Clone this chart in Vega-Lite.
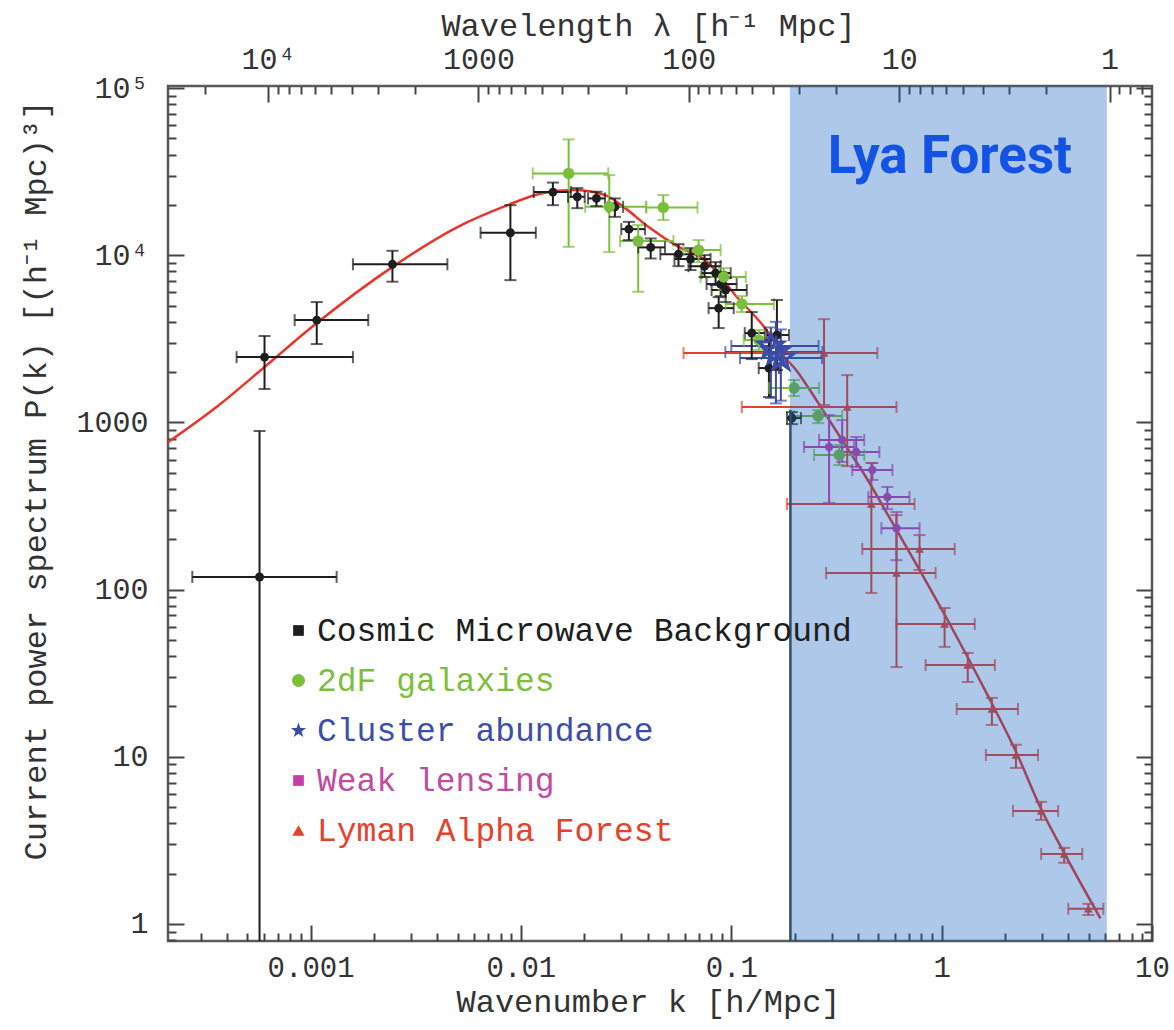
{
  "$schema": "https://vega.github.io/schema/vega-lite/v6.json",
  "width": 984,
  "height": 855,
  "autosize": {"type": "none"},
  "padding": {"left": 168, "top": 86, "right": 22, "bottom": 89},
  "background": "white",
  "config": {
    "view": {"stroke": "#5a5a5a", "strokeWidth": 2.5},
    "axis": {"grid": false, "domain": false, "tickColor": "#444444", "tickWidth": 2, "labelFont": "Liberation Mono", "titleFont": "Liberation Mono", "labelColor": "#333333", "titleColor": "#333333", "titleFontWeight": "normal", "labelOverlap": false, "labelFlush": false, "zindex": 2}
  },
  "datasets": {
    "pts": [
      {"s": "Cosmic Microwave Background", "k": 0.000572, "P": 119, "klo": 0.000274, "khi": 0.00133, "Plo": 0.1, "Phi": 889},
      {"s": "Cosmic Microwave Background", "k": 0.000604, "P": 2460, "klo": 0.000445, "khi": 0.00159, "Plo": 1585, "Phi": 3290},
      {"s": "Cosmic Microwave Background", "k": 0.00107, "P": 4095, "klo": 0.00084, "khi": 0.00188, "Plo": 2944, "Phi": 5250},
      {"s": "Cosmic Microwave Background", "k": 0.00245, "P": 8830, "klo": 0.00159, "khi": 0.00447, "Plo": 6950, "Phi": 10640},
      {"s": "Cosmic Microwave Background", "k": 0.00891, "P": 13640, "klo": 0.00643, "khi": 0.01177, "Plo": 7100, "Phi": 19950},
      {"s": "Cosmic Microwave Background", "k": 0.01419, "P": 23880, "klo": 0.0115, "khi": 0.0173, "Plo": 19950, "Phi": 27230},
      {"s": "Cosmic Microwave Background", "k": 0.01853, "P": 22390, "klo": 0.01674, "khi": 0.0201, "Plo": 19140, "Phi": 25230},
      {"s": "Cosmic Microwave Background", "k": 0.02285, "P": 21890, "klo": 0.02085, "khi": 0.0251, "Plo": 19680, "Phi": 23990},
      {"s": "Cosmic Microwave Background", "k": 0.02797, "P": 19500, "klo": 0.026, "khi": 0.0306, "Plo": 16980, "Phi": 21880},
      {"s": "Cosmic Microwave Background", "k": 0.0326, "P": 14340, "klo": 0.03, "khi": 0.0389, "Plo": 12330, "Phi": 15850},
      {"s": "Cosmic Microwave Background", "k": 0.0414, "P": 11150, "klo": 0.0361, "khi": 0.0484, "Plo": 9570, "Phi": 12610},
      {"s": "Cosmic Microwave Background", "k": 0.0561, "P": 10160, "klo": 0.046, "khi": 0.0684, "Plo": 8610, "Phi": 11660},
      {"s": "Cosmic Microwave Background", "k": 0.064, "P": 9490, "klo": 0.0537, "khi": 0.0797, "Plo": 8160, "Phi": 11040},
      {"s": "Cosmic Microwave Background", "k": 0.0746, "P": 8610, "klo": 0.0626, "khi": 0.089, "Plo": 7410, "Phi": 10030},
      {"s": "Cosmic Microwave Background", "k": 0.0842, "P": 7825, "klo": 0.0722, "khi": 0.0993, "Plo": 6630, "Phi": 9100},
      {"s": "Cosmic Microwave Background", "k": 0.089, "P": 6730, "klo": 0.0763, "khi": 0.1061, "Plo": 5700, "Phi": 7935},
      {"s": "Cosmic Microwave Background", "k": 0.094, "P": 6190, "klo": 0.0806, "khi": 0.1185, "Plo": 5250, "Phi": 7310},
      {"s": "Cosmic Microwave Background", "k": 0.0871, "P": 4830, "klo": 0.078, "khi": 0.1027, "Plo": 3670, "Phi": 5620},
      {"s": "Cosmic Microwave Background", "k": 0.1251, "P": 3425, "klo": 0.1159, "khi": 0.1443, "Plo": 2393, "Phi": 4575},
      {"s": "Cosmic Microwave Background", "k": 0.1648, "P": 3333, "klo": 0.1476, "khi": 0.188, "Plo": 2057, "Phi": 5400},
      {"s": "Cosmic Microwave Background", "k": 0.151, "P": 2115, "klo": 0.135, "khi": 0.1684, "Plo": 1419, "Phi": 3110},
      {"s": "Cosmic Microwave Background", "k": 0.1942, "P": 1062, "klo": 0.184, "khi": 0.2145, "Plo": 977, "Phi": 1153},
      {"s": "2dF galaxies", "k": 0.01686, "P": 30900, "klo": 0.01138, "khi": 0.026, "Plo": 11240, "Phi": 49350},
      {"s": "2dF galaxies", "k": 0.0263, "P": 19500, "klo": 0.0202, "khi": 0.0394, "Plo": 10450, "Phi": 30200},
      {"s": "2dF galaxies", "k": 0.0361, "P": 12160, "klo": 0.0296, "khi": 0.0531, "Plo": 6050, "Phi": 15170},
      {"s": "2dF galaxies", "k": 0.0475, "P": 19330, "klo": 0.0394, "khi": 0.0691, "Plo": 16250, "Phi": 22910},
      {"s": "2dF galaxies", "k": 0.0699, "P": 10740, "klo": 0.0593, "khi": 0.089, "Plo": 9100, "Phi": 12330},
      {"s": "2dF galaxies", "k": 0.092, "P": 7410, "klo": 0.0714, "khi": 0.1172, "Plo": 6190, "Phi": 8380},
      {"s": "2dF galaxies", "k": 0.1122, "P": 5110, "klo": 0.094, "khi": 0.1594, "Plo": 4575, "Phi": 5700},
      {"s": "2dF galaxies", "k": 0.1351, "P": 3110, "klo": 0.1146, "khi": 0.163, "Plo": 2710, "Phi": 3570},
      {"s": "2dF galaxies", "k": 0.1987, "P": 1607, "klo": 0.151, "khi": 0.2615, "Plo": 1439, "Phi": 1794},
      {"s": "2dF galaxies", "k": 0.2587, "P": 1092, "klo": 0.1987, "khi": 0.3366, "Plo": 991, "Phi": 1186},
      {"s": "2dF galaxies", "k": 0.326, "P": 638, "klo": 0.2474, "khi": 0.4287, "Plo": 556, "Phi": 733},
      {"s": "Cluster abundance", "k": 0.163, "P": 2636, "klo": 0.0937, "khi": 0.271, "Plo": 1300, "Phi": 4000},
      {"s": "Cluster abundance", "k": 0.1543, "P": 2864, "klo": 0.1, "khi": 0.26, "Plo": 1400, "Phi": 3700},
      {"s": "Cluster abundance", "k": 0.172, "P": 2427, "klo": 0.11, "khi": 0.27, "Plo": 1350, "Phi": 3600},
      {"s": "Weak lensing", "k": 0.2917, "P": 713, "klo": 0.2218, "khi": 0.384, "Plo": 330, "Phi": 1107},
      {"s": "Weak lensing", "k": 0.3366, "P": 785, "klo": 0.2615, "khi": 0.4287, "Plo": 580, "Phi": 1033},
      {"s": "Weak lensing", "k": 0.3927, "P": 665, "klo": 0.3366, "khi": 0.5058, "Plo": 541, "Phi": 818},
      {"s": "Weak lensing", "k": 0.4684, "P": 519, "klo": 0.3758, "khi": 0.5834, "Plo": 453, "Phi": 572},
      {"s": "Weak lensing", "k": 0.552, "P": 358, "klo": 0.448, "khi": 0.7034, "Plo": 303, "Phi": 411},
      {"s": "Weak lensing", "k": 0.61, "P": 233, "klo": 0.517, "khi": 0.785, "Plo": 150, "Phi": 291},
      {"s": "Lyman Alpha Forest", "k": 0.276, "P": 2600, "klo": 0.0593, "khi": 0.495, "Plo": 1271, "Phi": 4150},
      {"s": "Lyman Alpha Forest", "k": 0.3557, "P": 1236, "klo": 0.1122, "khi": 0.61, "Plo": 548, "Phi": 1921},
      {"s": "Lyman Alpha Forest", "k": 0.4634, "P": 325, "klo": 0.1839, "khi": 0.743, "Plo": 95.5, "Phi": 572},
      {"s": "Lyman Alpha Forest", "k": 0.61, "P": 125.7, "klo": 0.2823, "khi": 0.936, "Plo": 34.4, "Phi": 279},
      {"s": "Lyman Alpha Forest", "k": 0.785, "P": 175, "klo": 0.4195, "khi": 1.154, "Plo": 131, "Phi": 212},
      {"s": "Lyman Alpha Forest", "k": 1.033, "P": 62.2, "klo": 0.61, "khi": 1.437, "Plo": 45.4, "Phi": 77.6},
      {"s": "Lyman Alpha Forest", "k": 1.331, "P": 35.4, "klo": 0.839, "khi": 1.791, "Plo": 28.0, "Phi": 41.8},
      {"s": "Lyman Alpha Forest", "k": 1.733, "P": 19.3, "klo": 1.179, "khi": 2.306, "Plo": 15.5, "Phi": 22.5},
      {"s": "Lyman Alpha Forest", "k": 2.256, "P": 10.25, "klo": 1.622, "khi": 2.873, "Plo": 8.57, "Phi": 11.8},
      {"s": "Lyman Alpha Forest", "k": 2.971, "P": 4.74, "klo": 2.183, "khi": 3.58, "Plo": 4.19, "Phi": 5.37},
      {"s": "Lyman Alpha Forest", "k": 3.825, "P": 2.62, "klo": 2.971, "khi": 4.662, "Plo": 2.32, "Phi": 2.85},
      {"s": "Lyman Alpha Forest", "k": 4.98, "P": 1.23, "klo": 4.0, "khi": 5.87, "Plo": 1.13, "Phi": 1.318}
    ],
    "curve": [
      {"k": 0.000201, "P": 733}, {"k": 0.000357, "P": 1236}, {"k": 0.000606, "P": 2153}, {"k": 0.00107, "P": 3930},
      {"k": 0.002443, "P": 8500}, {"k": 0.00499, "P": 14750}, {"k": 0.00865, "P": 19950}, {"k": 0.01244, "P": 23450},
      {"k": 0.01767, "P": 24550}, {"k": 0.02513, "P": 22910}, {"k": 0.0313, "P": 19150}, {"k": 0.0403, "P": 14800},
      {"k": 0.0561, "P": 11240}, {"k": 0.0752, "P": 9360}, {"k": 0.106, "P": 5653}, {"k": 0.147, "P": 3573},
      {"k": 0.1759, "P": 2535}, {"k": 0.205, "P": 2032}, {"k": 0.2363, "P": 1563}, {"k": 0.2725, "P": 1186},
      {"k": 0.3176, "P": 877}, {"k": 0.3662, "P": 665}, {"k": 0.4315, "P": 483}, {"k": 0.5488, "P": 287},
      {"k": 0.785, "P": 131}, {"k": 1.132, "P": 57.3}, {"k": 1.635, "P": 24.0}, {"k": 2.274, "P": 10.5},
      {"k": 2.96, "P": 4.92}, {"k": 3.827, "P": 2.65}, {"k": 5.683, "P": 1.08}
    ],
    "band": [{"k1": 0.19, "k2": 6.1}],
    "edge": [{"k": 0.191, "P1": 0.79, "P2": 1190}],
    "label": [{"k": 1.094, "P": 38730, "t": "Lya Forest"}]
  },
  "layer": [
    {
      "data": {"name": "curve"},
      "mark": {"type": "line", "color": "#e8352b", "strokeWidth": 2.5, "clip": true, "interpolate": "monotone"},
      "encoding": {
        "x": {"field": "k", "type": "quantitative", "scale": {"type": "log", "domain": [0.00021, 10], "nice": false},
          "axis": {"orient": "bottom", "values": [0.001, 0.01, 0.1, 1, 10], "labelExpr": "format(datum.value, '~g')", "ticks": false, "labelFontSize": 29, "labelPadding": 12, "title": "Wavenumber k [h/Mpc]", "titleFontSize": 32, "titleX": 480, "titleY": 70, "titleBaseline": "alphabetic", "titleAlign": "center", "titleAnchor": null}},
        "y": {"field": "P", "type": "quantitative", "scale": {"type": "log", "domain": [0.79, 103000], "nice": false},
          "axis": {"orient": "left", "values": [1, 10, 100, 1000, 10000, 100000], "labelExpr": "datum.value >= 100000 ? '10⁵' : datum.value >= 10000 ? '10⁴' : format(datum.value, 'd')", "ticks": false, "labelFontSize": 30, "labelPadding": 20, "title": "Current power spectrum P(k) [(h⁻¹ Mpc)³]", "titleFontSize": 32, "titleX": -133, "titleY": 394, "titleAngle": -90, "titleBaseline": "middle", "titleAlign": "center", "titleAnchor": null}}
      }
    },
    {
      "data": {"name": "pts"},
      "mark": {"type": "rule", "strokeWidth": 2, "clip": true},
      "encoding": {
        "x": {"field": "klo", "type": "quantitative", "scale": {"type": "log", "domain": [0.00021, 10], "nice": false},
          "axis": {"orient": "bottom", "values": [0.001, 0.01, 0.1, 1, 10], "labels": false, "title": null, "tickSize": -16}},
        "x2": {"field": "khi"},
        "y": {"field": "P", "type": "quantitative", "scale": {"type": "log", "domain": [0.79, 103000], "nice": false},
          "axis": {"orient": "left", "values": [1, 10, 100, 1000, 10000, 100000], "labels": false, "title": null, "tickSize": -16}},
        "color": {"field": "s", "type": "nominal", "scale": {"domain": ["Cosmic Microwave Background", "2dF galaxies", "Cluster abundance", "Weak lensing", "Lyman Alpha Forest"], "range": ["#1e1e1e", "#7cbf3c", "#3b4ca6", "#c83caa", "#e8412b"]}, "legend": null}
      }
    },
    {
      "data": {"name": "pts"},
      "mark": {"type": "rule", "strokeWidth": 2, "clip": true},
      "encoding": {
        "x": {"field": "k", "type": "quantitative", "scale": {"type": "log", "domain": [0.00021, 10], "nice": false},
          "axis": {"orient": "bottom", "values": [0.0003, 0.0004, 0.0005, 0.0006, 0.0007, 0.0008, 0.0009, 0.002, 0.003, 0.004, 0.005, 0.006, 0.007, 0.008, 0.009, 0.02, 0.03, 0.04, 0.05, 0.06, 0.07, 0.08, 0.09, 0.2, 0.3, 0.4, 0.5, 0.6, 0.7, 0.8, 0.9, 2, 3, 4, 5, 6, 7, 8, 9], "labels": false, "title": null, "tickSize": -8}},
        "y": {"field": "Plo", "type": "quantitative", "scale": {"type": "log", "domain": [0.79, 103000], "nice": false},
          "axis": {"orient": "left", "values": [0.8, 0.9, 2, 3, 4, 5, 6, 7, 8, 9, 20, 30, 40, 50, 60, 70, 80, 90, 200, 300, 400, 500, 600, 700, 800, 900, 2000, 3000, 4000, 5000, 6000, 7000, 8000, 9000, 20000, 30000, 40000, 50000, 60000, 70000, 80000, 90000], "labels": false, "title": null, "tickSize": -8}},
        "y2": {"field": "Phi"},
        "color": {"field": "s", "type": "nominal", "legend": null}
      }
    },
    {
      "data": {"name": "pts"},
      "mark": {"type": "tick", "orient": "vertical", "thickness": 2, "size": 12, "clip": true},
      "encoding": {
        "x": {"field": "klo", "type": "quantitative", "scale": {"type": "log", "domain": [0.00021, 10], "nice": false},
          "axis": {"orient": "top", "values": [0.000628319, 0.00628319, 0.0628319, 0.628319, 6.28319], "labelExpr": "datum.value < 0.001 ? '10⁴' : format(round(2 * PI / datum.value), 'd')", "ticks": false, "labelFontSize": 30, "labelPadding": 12, "title": "Wavelength λ [h⁻¹ Mpc]", "titleFontSize": 32, "titleX": 480, "titleY": -51, "titleBaseline": "alphabetic", "titleAlign": "center", "titleAnchor": null}},
        "y": {"field": "P", "type": "quantitative", "scale": {"type": "log", "domain": [0.79, 103000], "nice": false},
          "axis": {"orient": "right", "values": [1, 10, 100, 1000, 10000, 100000], "labels": false, "title": null, "tickSize": -16}},
        "color": {"field": "s", "type": "nominal", "legend": null}
      }
    },
    {
      "data": {"name": "pts"},
      "mark": {"type": "tick", "orient": "vertical", "thickness": 2, "size": 12, "clip": true},
      "encoding": {
        "x": {"field": "khi", "type": "quantitative", "scale": {"type": "log", "domain": [0.00021, 10], "nice": false},
          "axis": {"orient": "top", "values": [0.000628319, 0.00628319, 0.0628319, 0.628319, 6.28319], "labels": false, "title": null, "tickSize": -16}},
        "y": {"field": "P", "type": "quantitative", "scale": {"type": "log", "domain": [0.79, 103000], "nice": false},
          "axis": {"orient": "right", "values": [0.8, 0.9, 2, 3, 4, 5, 6, 7, 8, 9, 20, 30, 40, 50, 60, 70, 80, 90, 200, 300, 400, 500, 600, 700, 800, 900, 2000, 3000, 4000, 5000, 6000, 7000, 8000, 9000, 20000, 30000, 40000, 50000, 60000, 70000, 80000, 90000], "labels": false, "title": null, "tickSize": -8}},
        "color": {"field": "s", "type": "nominal", "legend": null}
      }
    },
    {
      "data": {"name": "pts"},
      "mark": {"type": "tick", "orient": "horizontal", "thickness": 2, "size": 12, "clip": true},
      "encoding": {
        "x": {"field": "k", "type": "quantitative", "scale": {"type": "log", "domain": [0.00021, 10], "nice": false},
          "axis": {"orient": "top", "values": [0.00031416, 0.00069813, 0.0007854, 0.0008976, 0.0010472, 0.0012566, 0.0015708, 0.0020944, 0.0031416, 0.0069813, 0.007854, 0.008976, 0.010472, 0.012566, 0.015708, 0.020944, 0.031416, 0.069813, 0.07854, 0.08976, 0.10472, 0.12566, 0.15708, 0.20944, 0.31416, 0.69813, 0.7854, 0.8976, 1.0472, 1.2566, 1.5708, 2.0944, 3.1416, 6.9813, 7.854, 8.976], "labels": false, "title": null, "tickSize": -8}},
        "y": {"field": "Plo", "type": "quantitative", "scale": {"type": "log", "domain": [0.79, 103000], "nice": false}, "axis": null},
        "color": {"field": "s", "type": "nominal", "legend": null}
      }
    },
    {
      "data": {"name": "pts"},
      "mark": {"type": "tick", "orient": "horizontal", "thickness": 2, "size": 12, "clip": true},
      "encoding": {
        "x": {"field": "k", "type": "quantitative", "scale": {"type": "log", "domain": [0.00021, 10], "nice": false}, "axis": null},
        "y": {"field": "Phi", "type": "quantitative", "scale": {"type": "log", "domain": [0.79, 103000], "nice": false}, "axis": null},
        "color": {"field": "s", "type": "nominal", "legend": null}
      }
    },
    {
      "data": {"name": "pts"},
      "mark": {"type": "point", "filled": true, "opacity": 1, "clip": true},
      "encoding": {
        "x": {"field": "k", "type": "quantitative", "scale": {"type": "log", "domain": [0.00021, 10], "nice": false}, "axis": null},
        "y": {"field": "P", "type": "quantitative", "scale": {"type": "log", "domain": [0.79, 103000], "nice": false}, "axis": null},
        "color": {"field": "s", "type": "nominal",
          "legend": {
            "title": null, "orient": "none", "legendX": 114, "legendY": 528, "padding": 0,
            "labelFont": "Liberation Mono", "labelFontSize": 33, "labelOffset": 2, "rowPadding": 16, "labelLimit": 900,
            "symbolSize": {"expr": "datum.value === 'Cluster abundance' ? 260 : datum.value === '2dF galaxies' ? 170 : datum.value === 'Lyman Alpha Forest' ? 150 : 115"},
            "symbolType": {"expr": "datum.value === 'Cluster abundance' ? 'M0,-1L0.235,-0.324L0.951,-0.309L0.38,0.124L0.588,0.809L0,0.4L-0.588,0.809L-0.38,0.124L-0.951,-0.309L-0.235,-0.324Z' : datum.value === '2dF galaxies' ? 'circle' : datum.value === 'Lyman Alpha Forest' ? 'triangle-up' : 'square'"},
            "labelColor": {"expr": "datum.value === 'Cosmic Microwave Background' ? '#1e1e1e' : datum.value === '2dF galaxies' ? '#7cbf3c' : datum.value === 'Cluster abundance' ? '#3d4ea8' : datum.value === 'Weak lensing' ? '#c04ca2' : '#e8412b'"}
          }},
        "shape": {"condition": [
          {"test": "datum.s === 'Cluster abundance'", "value": "M0,-1L0.235,-0.324L0.951,-0.309L0.38,0.124L0.588,0.809L0,0.4L-0.588,0.809L-0.38,0.124L-0.951,-0.309L-0.235,-0.324Z"},
          {"test": "datum.s === 'Lyman Alpha Forest'", "value": "triangle-up"}
        ], "value": "circle"},
        "size": {"condition": [
          {"test": "datum.s === 'Cluster abundance'", "value": 700},
          {"test": "datum.s === '2dF galaxies'", "value": 130},
          {"test": "datum.s === 'Weak lensing'", "value": 70},
          {"test": "datum.s === 'Lyman Alpha Forest'", "value": 75}
        ], "value": 80},
        "stroke": {"condition": {"test": "datum.s === 'Cluster abundance'", "value": "#3b4ca6"}, "value": "transparent"},
        "fillOpacity": {"condition": {"test": "datum.s === 'Cluster abundance'", "value": 0}, "value": 1},
        "strokeWidth": {"condition": {"test": "datum.s === 'Cluster abundance'", "value": 3}, "value": 0}
      }
    },
    {
      "data": {"name": "band"},
      "mark": {"type": "rect", "color": "#1562bd", "opacity": 0.35},
      "encoding": {
        "x": {"field": "k1", "type": "quantitative", "scale": {"type": "log", "domain": [0.00021, 10], "nice": false}, "axis": null},
        "x2": {"field": "k2"}
      }
    },
    {
      "data": {"name": "edge"},
      "mark": {"type": "rule", "color": "#31506f", "strokeWidth": 2.5},
      "encoding": {
        "x": {"field": "k", "type": "quantitative", "scale": {"type": "log", "domain": [0.00021, 10], "nice": false}, "axis": null},
        "y": {"field": "P1", "type": "quantitative", "scale": {"type": "log", "domain": [0.79, 103000], "nice": false}, "axis": null},
        "y2": {"field": "P2"}
      }
    },
    {
      "data": {"name": "label"},
      "mark": {"type": "text", "font": "Roboto", "fontSize": 53, "fontWeight": "bold", "color": "#1452e4", "align": "center", "baseline": "middle"},
      "encoding": {
        "x": {"field": "k", "type": "quantitative", "scale": {"type": "log", "domain": [0.00021, 10], "nice": false}, "axis": null},
        "y": {"field": "P", "type": "quantitative", "scale": {"type": "log", "domain": [0.79, 103000], "nice": false}, "axis": null},
        "text": {"field": "t"}
      }
    }
  ],
  "resolve": {"axis": {"x": "independent", "y": "independent"}, "legend": {"color": "independent"}}
}
